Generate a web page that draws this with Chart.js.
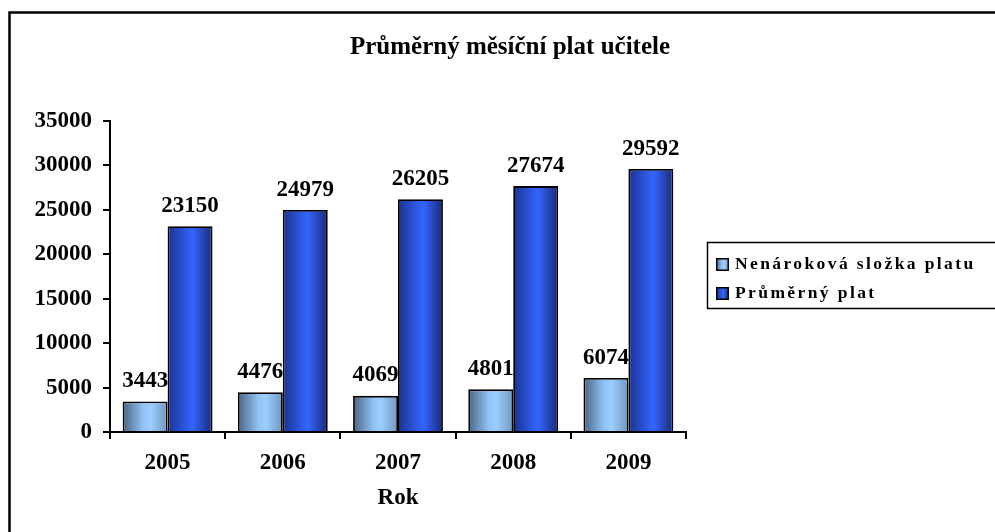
<!DOCTYPE html>
<html>
<head>
<meta charset="utf-8">
<script src="https://cdn.jsdelivr.net/npm/chart.js@4.4.1/dist/chart.umd.min.js"></script>
<style>
html,body{margin:0;padding:0;background:#fff;overflow:hidden}
canvas{display:block}
</style>
</head>
<body>
<canvas id="chart" width="1010" height="545"></canvas>
<script>
const categories=['2005','2006','2007','2008','2009'];
const bonusPay=[3443,4476,4069,4801,6074];
const averagePay=[23150,24979,26205,27674,29592];
const yTickValues=[0,5000,10000,15000,20000,25000,30000,35000];
const seriesNames=['Nenároková složka platu','Průměrný plat'];

const serif='"Liberation Serif","Times New Roman",serif';
const lightStops=[[0,'#4a6482'],[0.45,'#8fc2f5'],[0.62,'#9ccfff'],[1,'#7096be']];
const darkStops=[[0,'#1b3190'],[0.55,'#3366ff'],[1,'#1a2a78']];
const catPct=0.78;

function barFill(stops){
  return ctx=>{
    const chart=ctx.chart;
    if(!chart.chartArea||ctx.dataIndex===undefined) return stops[1][1];
    const x=chart.scales.x;
    const gw=x.width/categories.length*catPct, bw=gw/2;
    const left=x.getPixelForValue(ctx.dataIndex)-gw/2+ctx.datasetIndex*bw;
    const g=chart.ctx.createLinearGradient(left,0,left+bw,0);
    stops.forEach(s=>g.addColorStop(s[0],s[1]));
    return g;
  };
}

function drawValues(chart,i){
  const c=chart.ctx, meta=chart.getDatasetMeta(i), vals=chart.data.datasets[i].data;
  c.save();
  c.font='bold 23px '+serif;
  c.fillStyle='#000';
  c.textAlign='center';
  c.textBaseline='alphabetic';
  meta.data.forEach((bar,j)=>c.fillText(String(vals[j]),bar.x,bar.y-14.5));
  c.restore();
}

function swatch(c,x,y,stops){
  const g=c.createLinearGradient(x,0,x+13,0);
  stops.forEach(s=>g.addColorStop(s[0],s[1]));
  c.fillStyle=g;
  c.fillRect(x,y,13,13);
  c.lineWidth=1.5;
  c.strokeStyle='#000';
  c.strokeRect(x+.75,y+.75,11.5,11.5);
}

const decor={
  id:'decor',
  beforeDatasetsDraw(chart){drawValues(chart,0);},
  afterDatasetsDraw(chart){drawValues(chart,1);},
  afterDraw(chart){
    const c=chart.ctx;
    c.save();
    // outer frame
    c.lineWidth=2.5;
    c.strokeStyle='#000';
    c.strokeRect(9.5,12.5,1010,545);
    // title
    c.fillStyle='#000';
    c.font='bold 25px '+serif;
    c.textAlign='center';
    c.textBaseline='alphabetic';
    c.fillText('Průměrný měsíční plat učitele',510,54);
    // legend
    c.lineWidth=1.5;
    c.strokeRect(707.5,242.5,320,66);
    swatch(c,716,258,lightStops);
    swatch(c,716,287,darkStops);
    c.fillStyle='#000';
    c.font='bold 17.5px '+serif;
    c.textAlign='left';
    c.letterSpacing='2.4px';
    c.fillText(chart.data.datasets[0].label,735,269);
    c.fillText(chart.data.datasets[1].label,735,298);
    c.restore();
  }
};

new Chart(document.getElementById('chart').getContext('2d'),{
  type:'bar',
  data:{
    labels:categories,
    datasets:[
      {label:seriesNames[0],data:bonusPay,backgroundColor:barFill(lightStops),borderColor:'#000',borderWidth:1.8},
      {label:seriesNames[1],data:averagePay,backgroundColor:barFill(darkStops),borderColor:'#000',borderWidth:1.8}
    ]
  },
  options:{
    responsive:false,
    animation:false,
    devicePixelRatio:1,
    categoryPercentage:catPct,
    barPercentage:1,
    layout:{padding:{top:121,right:324,bottom:0,left:0}},
    plugins:{legend:{display:false},title:{display:false},tooltip:{enabled:false}},
    scales:{
      x:{
        grid:{drawOnChartArea:false,drawTicks:true,tickLength:7,color:'#000',lineWidth:2},
        border:{display:true,color:'#000',width:2},
        ticks:{color:'#000',font:{family:serif,size:23,weight:'bold'},padding:10,maxRotation:0},
        title:{display:true,text:'Rok',color:'#000',font:{family:serif,size:23,weight:'bold'},padding:{top:4,bottom:33}},
        afterFit(s){s.height=545-432;}
      },
      y:{
        min:0,
        max:35000,
        grid:{drawOnChartArea:false,drawTicks:true,tickLength:7,color:'#000',lineWidth:2},
        border:{display:true,color:'#000',width:2},
        ticks:{color:'#000',font:{family:serif,size:23,weight:'bold'},padding:11,callback:v=>String(v)},
        afterBuildTicks(s){s.ticks=yTickValues.map(v=>({value:v}));},
        afterFit(s){s.width=110;}
      }
    }
  },
  plugins:[decor]
});
</script>
</body>
</html>
